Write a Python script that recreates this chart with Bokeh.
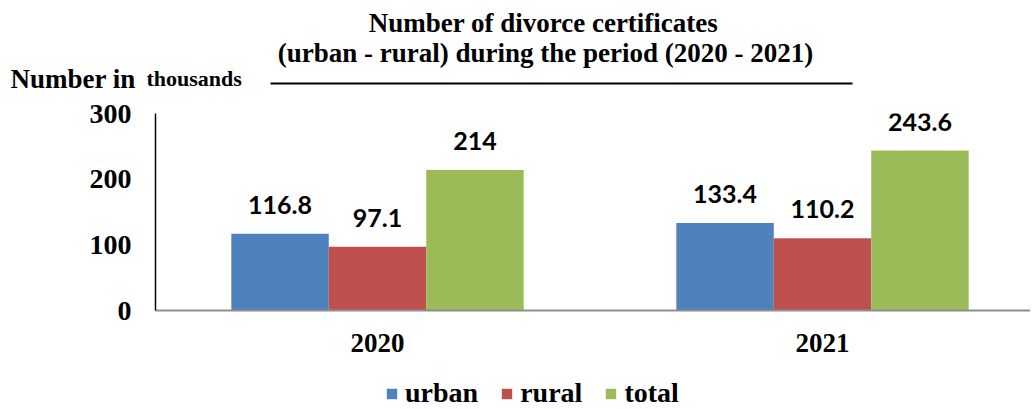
from bokeh.plotting import figure
from bokeh.layouts import column
from bokeh.models import (ColumnDataSource, Range1d, FixedTicker, Label, BoxAnnotation,
                          Legend, LegendItem)
from bokeh.transform import dodge
from bokeh.core.properties import value
from bokeh.embed import file_html
from bokeh.resources import INLINE

years = ["2020", "2021"]
urban = [116.8, 133.4]
rural = [97.1, 110.2]
total = [214, 243.6]
series_names = ["urban", "rural", "total"]
colors = ["#4F81BD", "#C0504D", "#9BBB59"]
y_ticks = [0, 100, 200, 300]

title_line1 = "Number of divorce certificates"
title_line2 = "(urban - rural) during the period (2020 - 2021)"
unit_main = "Number in"
unit_small = "thousands"

SERIF = "Liberation Serif"
W = 1030
HEAD_H = 95
MAIN_H = 263
FOOT_H = 409 - HEAD_H - MAIN_H


def bare(fig):
    fig.outline_line_color = None
    fig.xgrid.grid_line_color = None
    fig.ygrid.grid_line_color = None
    fig.frame_align = False


# ---------- header (titles + unit label) ----------
head = figure(width=W, height=HEAD_H, output_backend="svg", toolbar_location=None,
              x_range=Range1d(0, W), y_range=Range1d(0, HEAD_H),
              x_axis_type=None, y_axis_type=None, min_border=0)
bare(head)


def lab(text, X, Y, size, align="left"):
    head.add_layout(Label(x=X, y=HEAD_H - Y, x_units="screen", y_units="screen", text=text,
                          text_font=SERIF, text_font_style="bold", text_font_size=size,
                          text_align=align, text_baseline="alphabetic", text_color="black"))


lab(title_line1, 543, 22, "27px", "center")
lab(title_line2, 545, 52, "27px", "center")
lab(unit_main, 10, 78, "27px")
lab(unit_small, 146, 78, "22px")
head.add_layout(BoxAnnotation(left=270, right=852, bottom=HEAD_H - 84, top=HEAD_H - 82,
                              left_units="screen", right_units="screen",
                              bottom_units="screen", top_units="screen",
                              fill_color="black", fill_alpha=1, line_color=None))

# ---------- main chart ----------
source = ColumnDataSource(data=dict(
    x=list(range(len(years))),
    urban=urban, rural=rural, total=total,
    urban_lbl=[f"{v:g}" for v in urban],
    rural_lbl=[f"{v:g}" for v in rural],
    total_lbl=[f"{v:g}" for v in total],
))

FL = 155
p = figure(width=W, height=MAIN_H, frame_width=W - FL, frame_height=197,
           output_backend="svg", toolbar_location=None,
           x_range=Range1d((FL - 377) / 445, (W - 377) / 445), y_range=Range1d(0, 300),
           min_border_left=FL, min_border_right=0, min_border_top=113 - HEAD_H,
           min_border_bottom=MAIN_H - 197 - (113 - HEAD_H))
bare(p)

bw = 0.219
offsets = [-bw, 0, bw]
for name, col, off in zip(series_names, colors, offsets):
    p.vbar(x=dodge("x", off, range=p.x_range), top=name, width=bw, source=source,
           fill_color=col, line_color=None)
    p.text(x=dodge("x", off, range=p.x_range), y=name, text=name + "_lbl", source=source,
           text_align="center", text_baseline="alphabetic", y_offset=-29,
           text_font=value("Lato"), text_font_style="bold", text_font_size="25px",
           text_color="black")

xa = p.xaxis[0]
xa.ticker = FixedTicker(ticks=[0, 1])
xa.major_label_overrides = {i: y for i, y in enumerate(years)}
xa.axis_line_color = "#8E8E8E"
xa.axis_line_width = 2
xa.major_tick_line_color = None
xa.minor_tick_line_color = None
xa.major_label_standoff = 17
xa.major_label_text_font = SERIF
xa.major_label_text_font_style = "bold"
xa.major_label_text_font_size = "27px"
xa.major_label_text_color = "black"

ya = p.yaxis[0]
ya.ticker = FixedTicker(ticks=y_ticks)
ya.axis_line_color = "black"
ya.axis_line_width = 1.5
ya.major_tick_line_color = None
ya.minor_tick_line_color = None
ya.major_label_standoff = 18
ya.major_label_text_font = SERIF
ya.major_label_text_font_style = "bold"
ya.major_label_text_font_size = "28px"
ya.major_label_text_color = "black"

# ---------- footer (legend) ----------
foot = figure(width=W, height=FOOT_H, output_backend="svg", toolbar_location=None,
              x_range=Range1d(0, 1), y_range=Range1d(0, 1),
              x_axis_type=None, y_axis_type=None, min_border=0)
bare(foot)
foot_items = []
for name, col in zip(series_names, colors):
    r = foot.vbar(x="x", top=name, width=bw, source=source, fill_color=col,
                  line_color=None, visible=False)
    foot_items.append(LegendItem(label=name, renderers=[r]))

legend = Legend(items=foot_items, orientation="horizontal", location=(385, 0),
                glyph_width=13, glyph_height=13, label_standoff=7, spacing=22,
                label_text_font=SERIF, label_text_font_style="bold",
                label_text_font_size="28px", label_text_color="black",
                inactive_fill_alpha=0,
                border_line_color=None, background_fill_alpha=0, padding=0, margin=0)
foot.add_layout(legend)

layout = column(head, p, foot, spacing=0)
open("out.html", "w").write(file_html(layout, INLINE))
